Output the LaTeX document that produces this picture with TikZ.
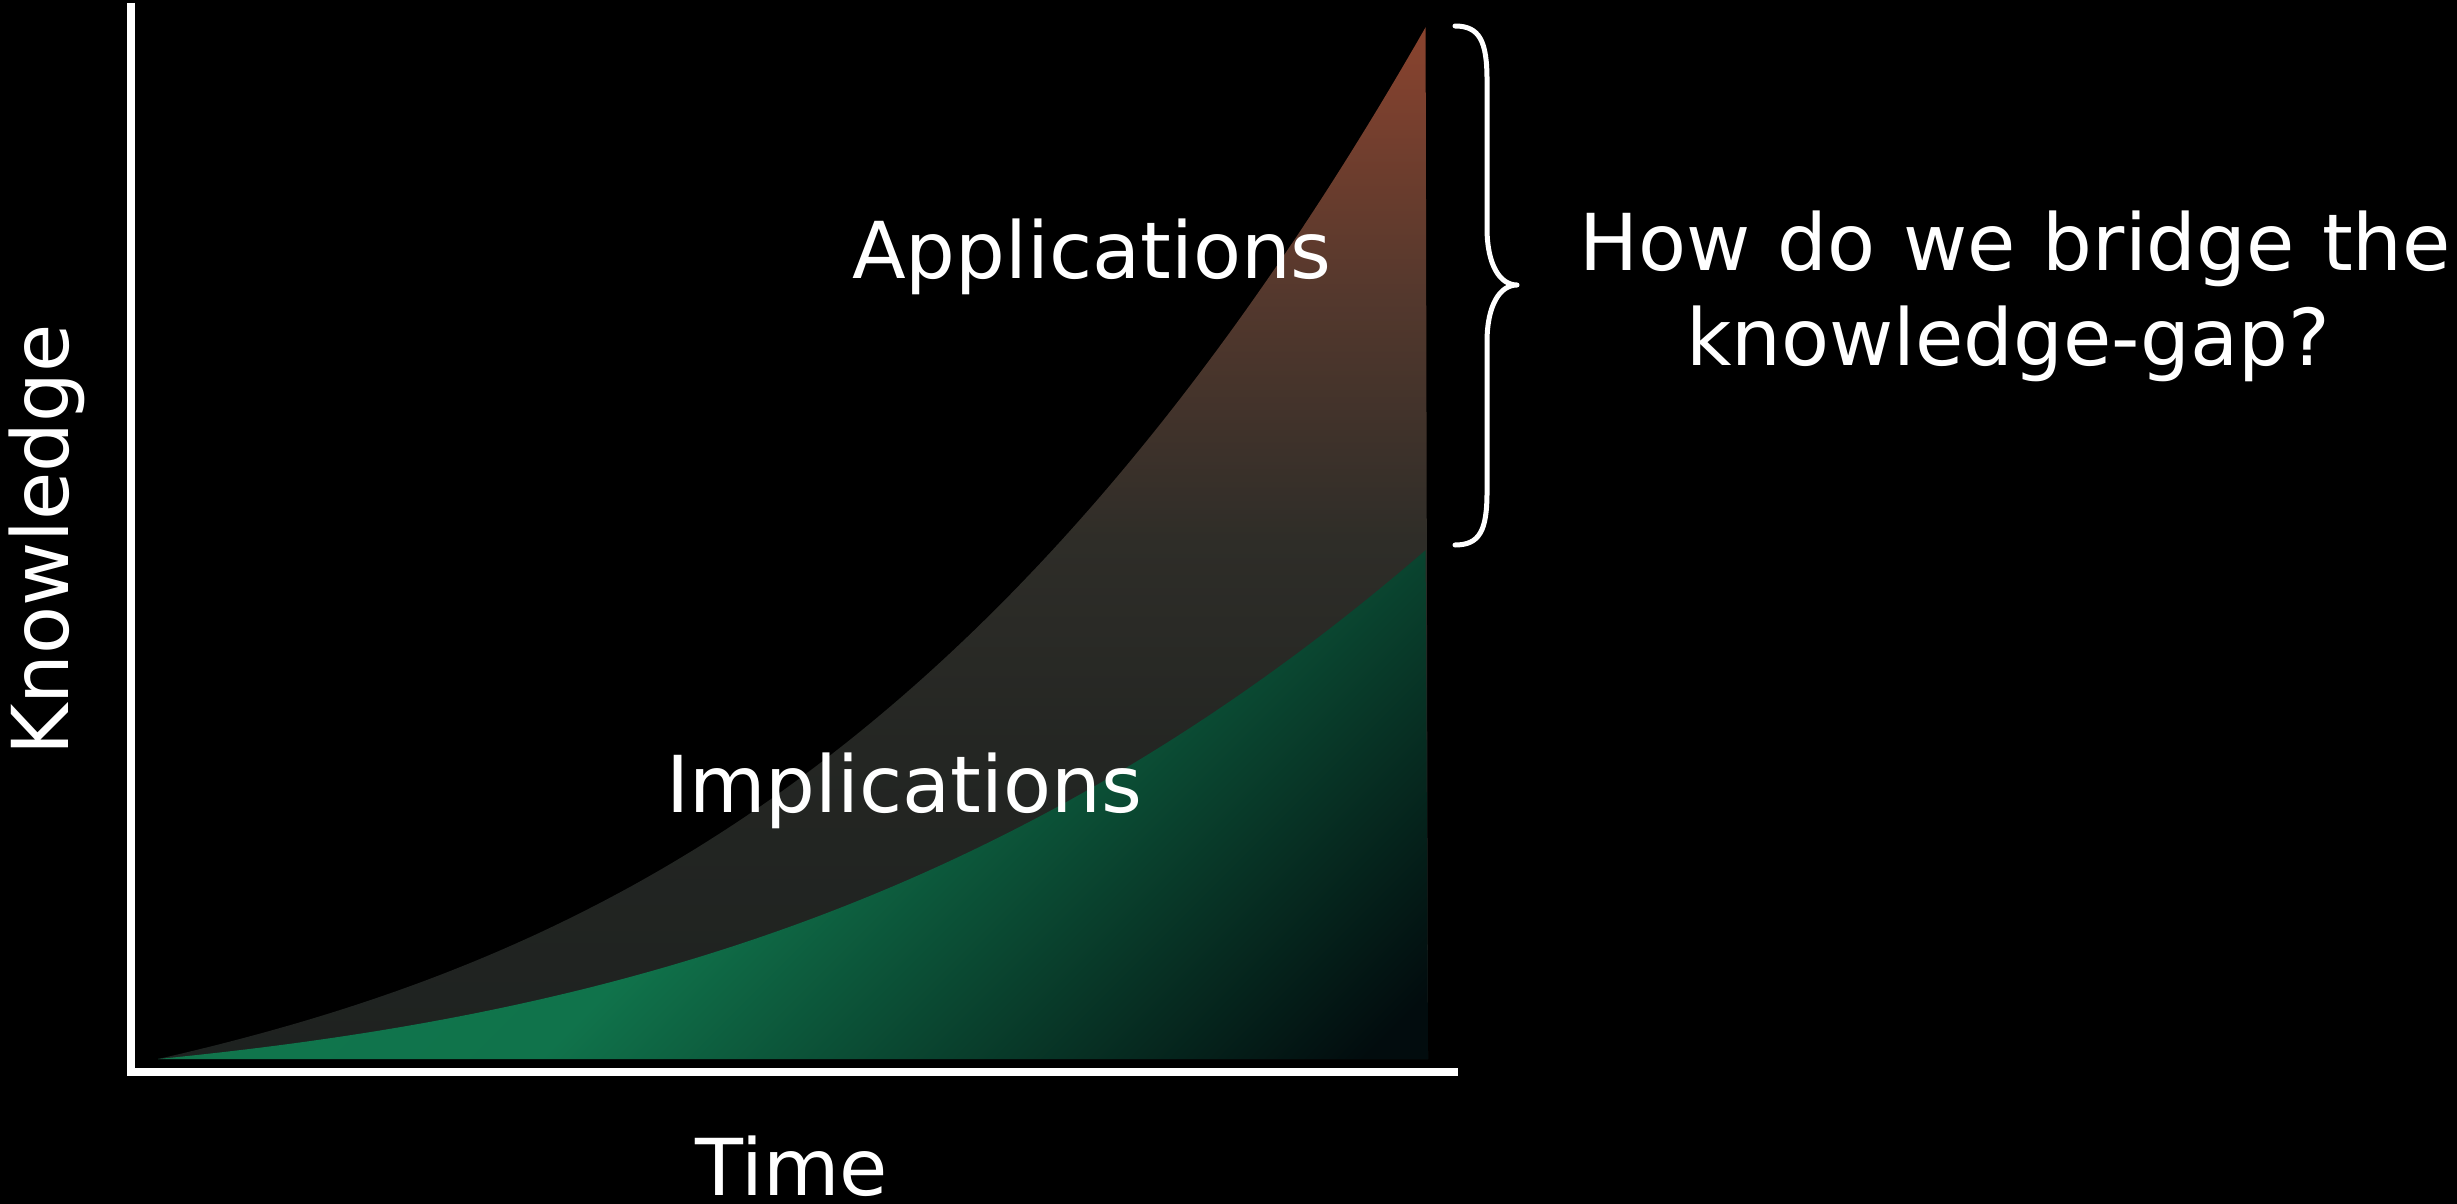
\documentclass[tikz,border=0pt]{standalone}
\usepackage{fontspec}
\setmainfont{DejaVu Sans}
\definecolor{upA}{RGB}{30,34,32}
\definecolor{upB}{RGB}{36,38,35}
\definecolor{upC}{RGB}{46,45,40}
\definecolor{upD}{RGB}{84,56,45}
\definecolor{upE}{RGB}{138,67,46}
\definecolor{gA}{RGB}{2,12,14}
\definecolor{gB}{RGB}{16,115,75}
\definecolor{gC}{RGB}{18,124,80}
\pgfdeclareverticalshading{uppershade}{100bp}{color(0bp)=(upA); color(25bp)=(upA); color(40bp)=(upB); color(50bp)=(upC); color(62bp)=(upD); color(75bp)=(upE); color(100bp)=(upE)}
\pgfdeclareverticalshading{greenshade}{100bp}{color(0bp)=(gA); color(17bp)=(gA); color(50bp)=(gB); color(100bp)=(gC)}
\tikzset{
  lbl/.style={text=white, font=\fontsize{78.5}{94}\selectfont, inner sep=0pt},
  axisline/.style={draw=white, line width=8pt, line join=miter},
  bracestyle/.style={draw=white, line width=5pt, line cap=round, line join=round}
}
\begin{document}
\begin{tikzpicture}[x=1pt,y=-1pt]
\fill[black] (0,0) rectangle (2457,1204);
\useasboundingbox (0,0) rectangle (2457,1204);
% upper (applications) region
\shade[shading=uppershade] plot[domain=0:1,samples=150,smooth] ({158+1270*\x},{1059-1036*(0.2796*\x+0.2908*\x*\x+0.4296*\x*\x*\x)}) -- (1428,1059) -- cycle;
% lower (implications) region
\shade[shading=greenshade, shading angle=45] plot[domain=0:1,samples=150,smooth] ({158+1270*\x},{1059-511*(0.2452*\x+0.3531*\x*\x+0.4017*\x*\x*\x)}) -- (1428,1059) -- cycle;
% axes
\coordinate (ytop) at (131,3);
\coordinate (orig) at (131,1072);
\coordinate (xend) at (1458,1072);
\draw[axisline] (ytop) -- (orig) -- (xend);
% brace
\coordinate (btop) at (1455,26);
\coordinate (btip) at (1517,285);
\coordinate (bbot) at (1455,545);
\draw[bracestyle] (btop) .. controls (1480,26) and (1487,42) .. (1487,80) -- (1487,228)
  .. controls (1487,265) and (1500,285) .. (btip)
  .. controls (1500,285) and (1487,305) .. (1487,342) -- (1487,492)
  .. controls (1487,530) and (1480,545) .. (bbot);
% labels
\node[lbl, anchor=base] (app) at (1092,278) {Applications};
\node[lbl, anchor=base] (imp) at (904,812) {Implications};
\node[lbl, anchor=base] (time) at (792,1195) {Time};
\node[lbl, anchor=base, rotate=90] (know) at (68,540) {Knowledge};
\node[lbl, anchor=base] (q1) at (2015,270) {\spaceskip=27.4pt How do we bridge the};
\node[lbl, anchor=base] (q2) at (2008,365) {knowledge-gap?};
\end{tikzpicture}
\end{document}
